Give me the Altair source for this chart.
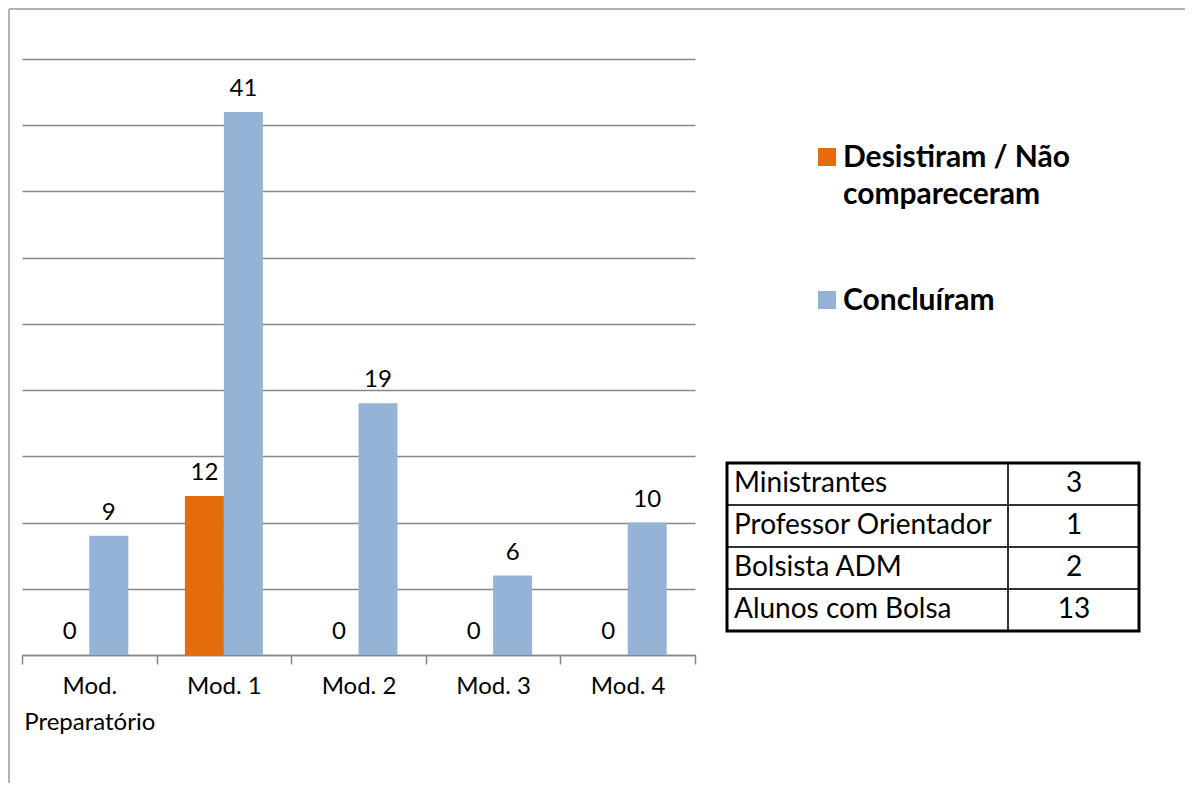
import altair as alt
import pandas as pd

categories = ["Mod. Preparatório", "Mod. 1", "Mod. 2", "Mod. 3", "Mod. 4"]
series = ["Desistiram / Não compareceram", "Concluíram"]
desistiram = [0, 12, 0, 0, 0]
concluiram = [9, 41, 19, 6, 10]
table_labels = ["Ministrantes", "Professor Orientador", "Bolsista ADM", "Alunos com Bolsa"]
table_values = [3, 1, 2, 13]
colors = ["#E46C0A", "#95B3D7"]

rows = []
for c, d, k in zip(categories, desistiram, concluiram):
    rows.append({"cat": c, "series": series[0], "value": d})
    rows.append({"cat": c, "series": series[1], "value": k})
df = pd.DataFrame(rows)

GRID = "#878787"
FONT = "Lato"

xenc = alt.X(
    "cat:N", sort=categories,
    scale=alt.Scale(paddingInner=0, paddingOuter=0),
    axis=alt.Axis(
        title=None, labelAngle=0, labelFont=FONT, labelFontSize=24, labelColor="black",
        labelPadding=10, tickBand="extent", tickSize=9, tickColor=GRID, tickWidth=1.5,
        domainColor=GRID, domainWidth=1.5, labelLineHeight=36,
        labelExpr="length(datum.label) > 10 ? split(datum.label, ' ') : datum.label",
    ),
)
xoff = alt.XOffset("series:N", sort=series, scale=alt.Scale(paddingInner=0, paddingOuter=0.726))
yscale = alt.Scale(domain=[0, 45], nice=False)
color = alt.Color("series:N", sort=series, scale=alt.Scale(domain=series, range=colors), legend=None)

bars = alt.Chart(df).mark_bar().encode(
    x=xenc, xOffset=xoff,
    y=alt.Y("value:Q", scale=yscale, axis=alt.Axis(
        title=None, values=list(range(0, 50, 5)), labels=False, ticks=False, domain=False,
        grid=True, gridColor=GRID, gridWidth=1.5)),
    color=color,
)
labels = alt.Chart(df).mark_text(baseline="alphabetic", dy=-16, fontSize=24, font=FONT, color="black").encode(
    x=xenc, xOffset=xoff,
    y=alt.Y("value:Q", scale=yscale, axis=None),
    text="value:Q",
)

leg_df = pd.DataFrame({"series": series})
leg_y = alt.Y("series:N", sort=series, scale=alt.Scale(type="point", domain=series, range=[98, 241], padding=0), axis=None)
legend_sym = alt.Chart(leg_df).mark_square(size=324, opacity=1).encode(
    x=alt.value(805), y=leg_y, color=color)
legend_txt = alt.Chart(leg_df).transform_calculate(
    lbl="replace(datum.series, 'Não ', 'Não\\n')"
).mark_text(align="left", baseline="alphabetic", dy=10, fontSize=30, font=FONT, fontWeight="bold",
            lineBreak="\n", lineHeight=37, color="black").encode(
    x=alt.value(821), y=leg_y, text="lbl:N")

tab_df = pd.DataFrame({"label": table_labels, "count": table_values})
tab_y = alt.Y("label:N", sort=table_labels,
              scale=alt.Scale(type="band", domain=table_labels, range=[404, 572], paddingInner=0, paddingOuter=0),
              axis=None)
tab_yc = alt.Y("label:N", sort=table_labels, bandPosition=0.5,
               scale=alt.Scale(type="band", domain=table_labels, range=[404, 572], paddingInner=0, paddingOuter=0),
               axis=None)
cell1 = alt.Chart(tab_df).mark_rect(fill="white", stroke="#333333", strokeWidth=2).encode(
    x=alt.value(705), x2=alt.value(986), y=tab_y)
cell2 = alt.Chart(tab_df).mark_rect(fill="white", stroke="#333333", strokeWidth=2).encode(
    x=alt.value(986), x2=alt.value(1117), y=tab_y)
one = alt.Data(values=[{"k": 1}])
outer = alt.Chart(one).mark_rect(filled=False, stroke="black", strokeWidth=3).encode(
    x=alt.value(705), x2=alt.value(1117), y=alt.value(404), y2=alt.value(572))
tab_names = alt.Chart(tab_df).mark_text(align="left", baseline="middle", fontSize=28, font=FONT, color="black").encode(
    x=alt.value(712), y=tab_yc, text="label:N")
tab_vals = alt.Chart(tab_df).mark_text(align="center", baseline="middle", fontSize=28, font=FONT, color="black").encode(
    x=alt.value(1052), y=tab_yc, text="count:Q")

frame_left = alt.Chart(one).mark_rule(color="#9a9a9a", strokeWidth=1.5).encode(
    x=alt.value(-13), y=alt.value(-50), y2=alt.value(730))
frame_top = alt.Chart(one).mark_rule(color="#9a9a9a", strokeWidth=1.5).encode(
    x=alt.value(-13), x2=alt.value(1170), y=alt.value(-50))

chart = alt.layer(
    frame_left, frame_top, bars, labels, legend_sym, legend_txt,
    cell1, cell2, outer, tab_names, tab_vals,
).resolve_scale(y="independent").properties(
    width=673, height=596,
    autosize=alt.AutoSizeParams(type="none"),
    padding={"left": 14, "top": 51, "right": 490, "bottom": 128},
    background="white",
).configure_view(stroke=None)

chart.save("out.html", embed_options={"renderer": "svg", "actions": False})
